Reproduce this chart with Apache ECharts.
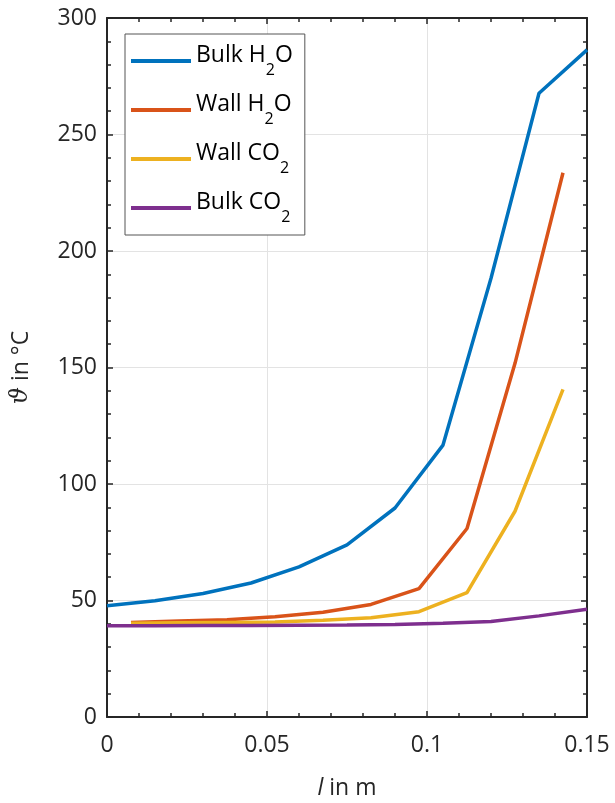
<!DOCTYPE html>
<html>
<head>
<meta charset="utf-8">
<script src="https://cdn.jsdelivr.net/npm/echarts@6/dist/echarts.min.js"></script>
<style>html,body{margin:0;padding:0;background:#fff;}#c{width:615px;height:803px;}</style>
</head>
<body>
<div id="c"></div>
<script>
// ---- data ----
const xBulk = [0, 0.015, 0.03, 0.045, 0.06, 0.075, 0.09, 0.105, 0.12, 0.135, 0.15];
const bulkH2O = [47.7, 49.9, 53.0, 57.5, 64.4, 73.9, 89.7, 116.7, 188.3, 267.7, 286.3];
const bulkCO2 = [39.2, 39.2, 39.3, 39.3, 39.4, 39.5, 39.7, 40.2, 41.0, 43.4, 46.2];
const xWall = [0.0075, 0.0225, 0.0375, 0.0525, 0.0675, 0.0825, 0.0975, 0.1125, 0.1275, 0.1425];
const wallH2O = [40.6, 41.2, 41.7, 43.0, 45.0, 48.3, 55.1, 80.9, 151.8, 233.6];
const wallCO2 = [40.2, 40.4, 40.6, 40.8, 41.5, 42.6, 45.2, 53.4, 88.3, 140.6];
const seriesNames = ['Bulk H2O', 'Wall H2O', 'Wall CO2', 'Bulk CO2'];
const legendRich = {
  'Bulk H2O': '{m|Bulk H}{s|2}{m|O}',
  'Wall H2O': '{m|Wall H}{s|2}{m|O}',
  'Wall CO2': '{m|Wall CO}{s|2}',
  'Bulk CO2': '{m|Bulk CO}{s|2}'
};
const xTicks = { min: 0, max: 0.15, interval: 0.05 };
const yTicks = { min: 0, max: 300, interval: 50 };

const FONT = 'Open Sans';
const AX = '#262626';
const colors = ['#0072BD', '#D95319', '#EDB120', '#7E2F8E'];

function pairs(xs, ys) { return xs.map((x, i) => [x, ys[i]]); }

const chart = echarts.init(document.getElementById('c'), null, { renderer: 'canvas' });

function axisCommon(extra) {
  return Object.assign({
    type: 'value',
    axisLine: { show: true, onZero: false, lineStyle: { color: AX, width: 2 } },
    axisTick: { show: true, inside: true, length: 6, lineStyle: { color: AX, width: 1.5 } },
    minorTick: { show: true, splitNumber: 5, length: 4, lineStyle: { color: AX, width: 1.5 } },
    splitLine: { show: false },
    minorSplitLine: { show: false }
  }, extra);
}

const LW = 3.5;
const option = {
  animation: false,
  backgroundColor: '#fff',
  color: colors,
  grid: { left: 107, right: 28, top: 18, bottom: 86, containLabel: false, outerBoundsMode: 'none' },
  xAxis: [
    axisCommon({
      position: 'bottom', min: xTicks.min, max: xTicks.max, interval: xTicks.interval,
      axisLabel: { color: AX, fontFamily: FONT, fontSize: 23, margin: 17 },
      splitLine: { show: true, lineStyle: { color: '#e3e3e3', width: 1 } },
      name: '{i|l} in m',
      nameLocation: 'middle',
      nameGap: 60,
      nameTextStyle: {
        color: AX, fontFamily: FONT, fontSize: 23,
        rich: { i: { fontFamily: FONT, fontStyle: 'italic', fontSize: 23, color: AX } }
      }
    }),
    axisCommon({
      position: 'top', min: xTicks.min, max: xTicks.max, interval: xTicks.interval,
      axisLabel: { show: false }
    })
  ],
  yAxis: [
    axisCommon({
      position: 'left', min: yTicks.min, max: yTicks.max, interval: yTicks.interval,
      axisLabel: { color: AX, fontFamily: FONT, fontSize: 23, margin: 10 },
      splitLine: { show: true, lineStyle: { color: '#e3e3e3', width: 1 } },
      name: '{i|ϑ} in °C',
      nameLocation: 'middle',
      nameGap: 74,
      nameRotate: 90,
      nameTextStyle: {
        color: AX, fontFamily: FONT, fontSize: 23,
        rich: { i: { fontFamily: 'DejaVu Serif', fontStyle: 'italic', fontSize: 24, color: AX } }
      }
    }),
    axisCommon({
      position: 'right', min: yTicks.min, max: yTicks.max, interval: yTicks.interval,
      axisLabel: { show: false }
    })
  ],
  legend: {
    orient: 'vertical',
    left: 125, top: 34,
    data: seriesNames,
    icon: 'rect',
    itemWidth: 60, itemHeight: 4, itemGap: 15,
    padding: [10, 12, 10, 6],
    backgroundColor: '#fff',
    borderColor: '#555', borderWidth: 1, borderRadius: 0,
    formatter: function (name) { return legendRich[name]; },
    textStyle: {
      color: '#000', fontFamily: FONT, fontSize: 23,
      rich: {
        m: { fontFamily: FONT, fontSize: 23, color: '#000', lineHeight: 34, verticalAlign: 'top' },
        s: { fontFamily: FONT, fontSize: 16, color: '#000', lineHeight: 34, verticalAlign: 'bottom' }
      }
    }
  },
  series: [
    { name: seriesNames[0], type: 'line', data: pairs(xBulk, bulkH2O), symbol: 'none', lineStyle: { width: LW }, clip: true },
    { name: seriesNames[1], type: 'line', data: pairs(xWall, wallH2O), symbol: 'none', lineStyle: { width: LW }, clip: true },
    { name: seriesNames[2], type: 'line', data: pairs(xWall, wallCO2), symbol: 'none', lineStyle: { width: LW }, clip: true },
    { name: seriesNames[3], type: 'line', data: pairs(xBulk, bulkCO2), symbol: 'none', lineStyle: { width: LW }, clip: true }
  ]
};
chart.setOption(option);
</script>
</body>
</html>
